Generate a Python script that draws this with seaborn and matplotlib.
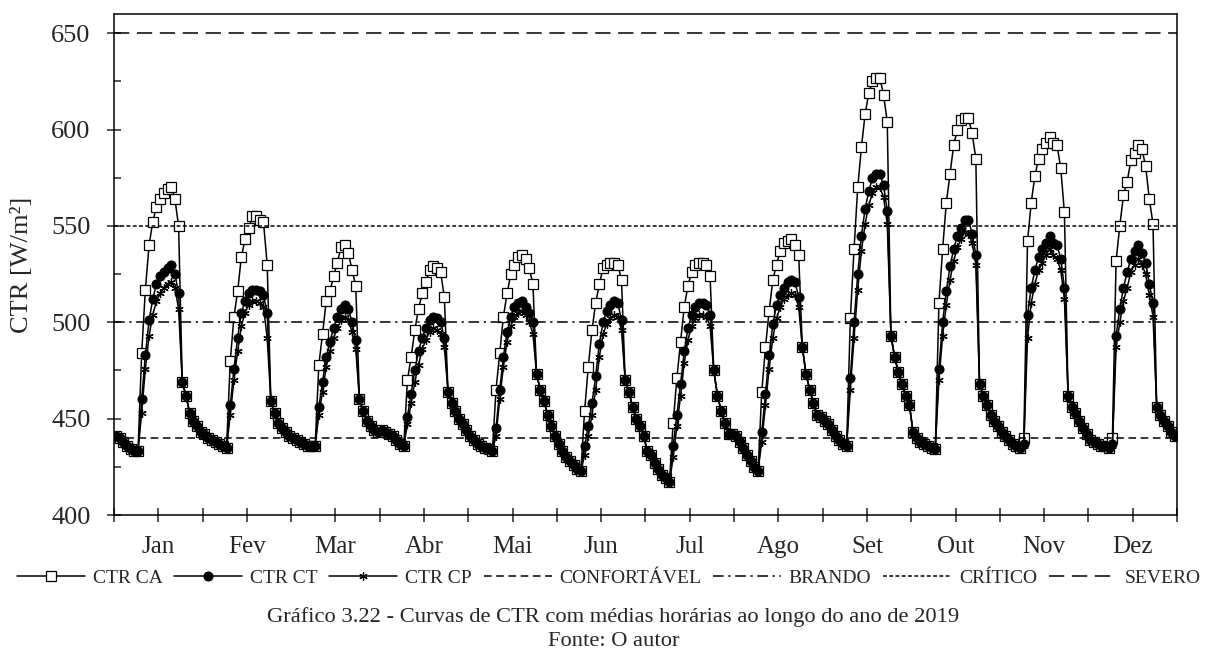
import numpy as np
import pandas as pd
import matplotlib
matplotlib.use("Agg")
import matplotlib.pyplot as plt
import seaborn as sns
from matplotlib.ticker import FixedLocator, FixedFormatter, NullFormatter

# ---------------- data ----------------
months = ["Jan", "Fev", "Mar", "Abr", "Mai", "Jun", "Jul", "Ago", "Set", "Out", "Nov", "Dez"]
hours_per_month = 24

# hourly averages (24 values per month, Jan..Dez)
ctr_ca = [
    441, 440, 438, 436, 434, 433, 433, 484, 517, 540, 552, 560, 564, 567, 569, 570, 564, 550, 469, 462, 453, 449, 446, 443,
    442, 440, 439, 438, 437, 436, 435, 480, 503, 516, 534, 543, 549, 555, 555, 553, 552, 530, 459, 453, 448, 445, 443, 441,
    440, 439, 438, 437, 436, 436, 436, 478, 494, 511, 516, 524, 531, 539, 540, 536, 527, 519, 460, 454, 449, 446, 444, 443,
    444, 443, 442, 441, 439, 437, 436, 470, 482, 496, 507, 515, 521, 527, 529, 528, 526, 513, 464, 458, 454, 450, 447, 444,
    441, 439, 437, 436, 435, 434, 433, 465, 484, 503, 515, 525, 530, 534, 535, 533, 528, 520, 473, 465, 459, 452, 446, 441,
    437, 433, 430, 428, 426, 424, 423, 454, 477, 496, 510, 520, 528, 530, 531, 531, 530, 522, 470, 464, 456, 450, 446, 441,
    433, 431, 427, 424, 421, 419, 417, 448, 471, 490, 508, 519, 526, 530, 531, 531, 530, 524, 475, 462, 454, 448, 442, 442,
    441, 438, 435, 431, 428, 425, 423, 464, 487, 506, 522, 530, 537, 541, 542, 543, 540, 535, 487, 473, 465, 458, 452, 451,
    449, 447, 444, 441, 439, 437, 436, 502, 538, 570, 591, 608, 619, 625, 627, 627, 618, 604, 493, 482, 474, 468, 462, 457,
    443, 440, 438, 437, 436, 435, 434, 510, 538, 562, 577, 592, 600, 605, 606, 606, 598, 585, 468, 462, 457, 452, 449, 446,
    443, 441, 439, 437, 436, 435, 440, 542, 562, 576, 585, 590, 593, 596, 593, 592, 580, 557, 462, 456, 453, 449, 445, 442,
    439, 438, 437, 436, 436, 435, 440, 532, 550, 566, 573, 584, 588, 592, 590, 581, 564, 551, 456, 452, 449, 446, 443, 441,
]
ctr_ct = [
    441, 440, 438, 436, 434, 433, 433, 460, 483, 501, 512, 520, 524, 526, 528, 530, 525, 515, 469, 462, 453, 449, 446, 443,
    442, 440, 439, 438, 437, 436, 435, 457, 476, 492, 505, 511, 515, 517, 517, 516, 514, 505, 459, 453, 448, 445, 443, 441,
    440, 439, 438, 437, 436, 436, 436, 456, 469, 482, 490, 497, 503, 507, 509, 507, 500, 491, 460, 454, 449, 446, 444, 443,
    444, 443, 442, 441, 439, 437, 436, 451, 463, 475, 485, 492, 497, 501, 503, 502, 500, 492, 464, 458, 454, 450, 447, 444,
    441, 439, 437, 436, 435, 434, 433, 445, 465, 482, 495, 503, 508, 510, 511, 508, 505, 500, 473, 465, 459, 452, 446, 441,
    437, 433, 430, 428, 426, 424, 423, 436, 446, 458, 472, 489, 500, 506, 509, 511, 510, 501, 470, 464, 456, 450, 446, 441,
    433, 431, 427, 424, 421, 419, 417, 436, 452, 468, 485, 497, 504, 508, 510, 510, 509, 504, 475, 462, 454, 448, 442, 442,
    441, 438, 435, 431, 428, 425, 423, 443, 463, 483, 499, 509, 514, 518, 521, 522, 521, 513, 487, 473, 465, 458, 452, 451,
    449, 447, 444, 441, 439, 437, 436, 471, 500, 525, 545, 559, 568, 575, 577, 577, 571, 558, 493, 482, 474, 468, 462, 457,
    443, 440, 438, 437, 436, 435, 434, 476, 500, 516, 529, 538, 545, 549, 553, 553, 546, 535, 468, 462, 457, 452, 449, 446,
    443, 441, 439, 437, 436, 435, 437, 504, 518, 527, 534, 538, 541, 545, 541, 540, 533, 518, 462, 456, 453, 449, 445, 442,
    439, 438, 437, 436, 436, 435, 437, 493, 507, 518, 526, 533, 537, 540, 536, 531, 520, 510, 456, 452, 449, 446, 443, 441,
]
ctr_cp = [
    441, 440, 438, 436, 434, 433, 433, 453, 476, 493, 504, 511, 515, 518, 520, 521, 518, 507, 469, 462, 453, 449, 446, 443,
    442, 440, 439, 438, 437, 436, 435, 452, 470, 485, 498, 505, 509, 511, 511, 510, 508, 492, 459, 453, 448, 445, 443, 441,
    440, 439, 438, 437, 436, 436, 436, 452, 464, 477, 485, 492, 497, 501, 503, 501, 495, 486, 460, 454, 449, 446, 444, 443,
    444, 443, 442, 441, 439, 437, 436, 447, 458, 469, 478, 486, 491, 495, 497, 496, 494, 487, 464, 458, 454, 450, 447, 444,
    441, 439, 437, 436, 435, 434, 433, 441, 460, 477, 490, 498, 503, 505, 506, 504, 500, 494, 473, 465, 459, 452, 446, 441,
    437, 433, 430, 428, 426, 424, 423, 431, 441, 452, 465, 482, 494, 499, 502, 504, 503, 496, 470, 464, 456, 450, 446, 441,
    433, 431, 427, 424, 421, 419, 417, 430, 446, 462, 479, 491, 498, 502, 504, 504, 503, 498, 475, 462, 454, 448, 442, 442,
    441, 438, 435, 431, 428, 425, 423, 438, 457, 476, 492, 502, 508, 512, 514, 515, 514, 508, 487, 473, 465, 458, 452, 451,
    449, 447, 444, 441, 439, 437, 436, 465, 492, 517, 537, 551, 561, 567, 570, 570, 565, 551, 493, 482, 474, 468, 462, 457,
    443, 440, 438, 437, 436, 435, 434, 470, 493, 509, 522, 532, 539, 543, 547, 546, 541, 530, 468, 462, 457, 452, 449, 446,
    443, 441, 439, 437, 436, 435, 436, 492, 510, 520, 527, 531, 535, 538, 535, 533, 527, 512, 462, 456, 453, 449, 445, 442,
    439, 438, 437, 436, 436, 435, 436, 487, 500, 511, 518, 526, 530, 533, 530, 525, 514, 503, 456, 452, 449, 446, 443, 441,
]

limit_names = ["CONFORTÁVEL", "BRANDO", "CRÍTICO", "SEVERO"]
limit_values = [440, 500, 550, 650]
y_ticks = [400, 450, 500, 550, 600, 650]

# ---------------- style ----------------
sns.set_style("ticks")
plt.rcParams["font.family"] = ["Liberation Serif", "DejaVu Serif"]
plt.rcParams["axes.linewidth"] = 1.1

fig = plt.figure(figsize=(12.1, 6.6), dpi=100)
ax = fig.add_axes([114 / 1210, 1 - 515 / 660, 1063 / 1210, 501 / 660])

n = len(ctr_ca)
df = pd.DataFrame({
    "hora": np.arange(n),
    "CTR CA": ctr_ca,
    "CTR CT": ctr_ct,
    "CTR CP": ctr_cp,
})

common = dict(ax=ax, color="black", linewidth=1.1, estimator=None, sort=False)
sns.lineplot(data=df, x="hora", y="CTR CA", marker="s", markersize=6.5,
             markerfacecolor="white", markeredgecolor="black", markeredgewidth=0.9,
             label="CTR CA", **common)
sns.lineplot(data=df, x="hora", y="CTR CT", marker="o", markersize=6.5,
             markerfacecolor="black", markeredgecolor="black",
             label="CTR CT", **common)
sns.lineplot(data=df, x="hora", y="CTR CP", marker=(6, 2, 0), markersize=6,
             markeredgecolor="black", markeredgewidth=0.9,
             label="CTR CP", **common)

styles = [(0, (5, 3)), (0, (7, 3, 1.5, 3)), (0, (2.5, 1.6)), (0, (10, 5))]
for name, val, ls in zip(limit_names, limit_values, styles):
    ax.axhline(val, color="black", linewidth=1.1, linestyle=ls, label=name)

# axes
ax.set_xlim(-0.5, n - 0.5)
ax.set_ylim(400, 660)
ax.set_xlabel("")
ax.set_ylabel("CTR [W/m²]", fontsize=19)
ax.yaxis.set_label_coords(-0.076, 0.5)

ax.xaxis.remove_overlapping_locs = False
ax.xaxis.set_major_locator(FixedLocator(np.arange(-0.5, n + 0.5, hours_per_month / 2)))
ax.xaxis.set_major_formatter(NullFormatter())
ax.xaxis.set_minor_locator(FixedLocator(np.arange(len(months)) * hours_per_month + hours_per_month / 2 - 0.5))
ax.xaxis.set_minor_formatter(FixedFormatter(months))
ax.tick_params(axis="x", which="major", direction="inout", length=10, width=1.1)
ax.tick_params(axis="x", which="minor", length=0, labelsize=18, pad=15)

ax.set_yticks(y_ticks)
ax.yaxis.set_minor_locator(FixedLocator(np.arange(425, 660, 50)))
ax.tick_params(axis="y", which="major", direction="inout", length=10, width=1.1, labelsize=19, pad=12)
ax.tick_params(axis="y", which="minor", direction="in", length=5, width=1.1)
for s in ax.spines.values():
    s.set_visible(True)
    s.set_color("black")

handles, labels = ax.get_legend_handles_labels()
ax.legend(handles, labels, loc="center", bbox_to_anchor=(0.503, 1 - 578 / 660),
          bbox_transform=fig.transFigure, ncol=7, frameon=False, fontsize=14,
          handlelength=3.5, handletextpad=0.4, columnspacing=0.6, numpoints=1,
          borderaxespad=0, borderpad=0)

fig.text(0.507, 1 - 617 / 660, "Gráfico 3.22 - Curvas de CTR com médias horárias ao longo do ano de 2019",
         ha="center", va="center", fontsize=16.2)
fig.text(0.507, 1 - 642 / 660, "Fonte: O autor", ha="center", va="center", fontsize=16.2)

fig.savefig("out.png", dpi=100)
